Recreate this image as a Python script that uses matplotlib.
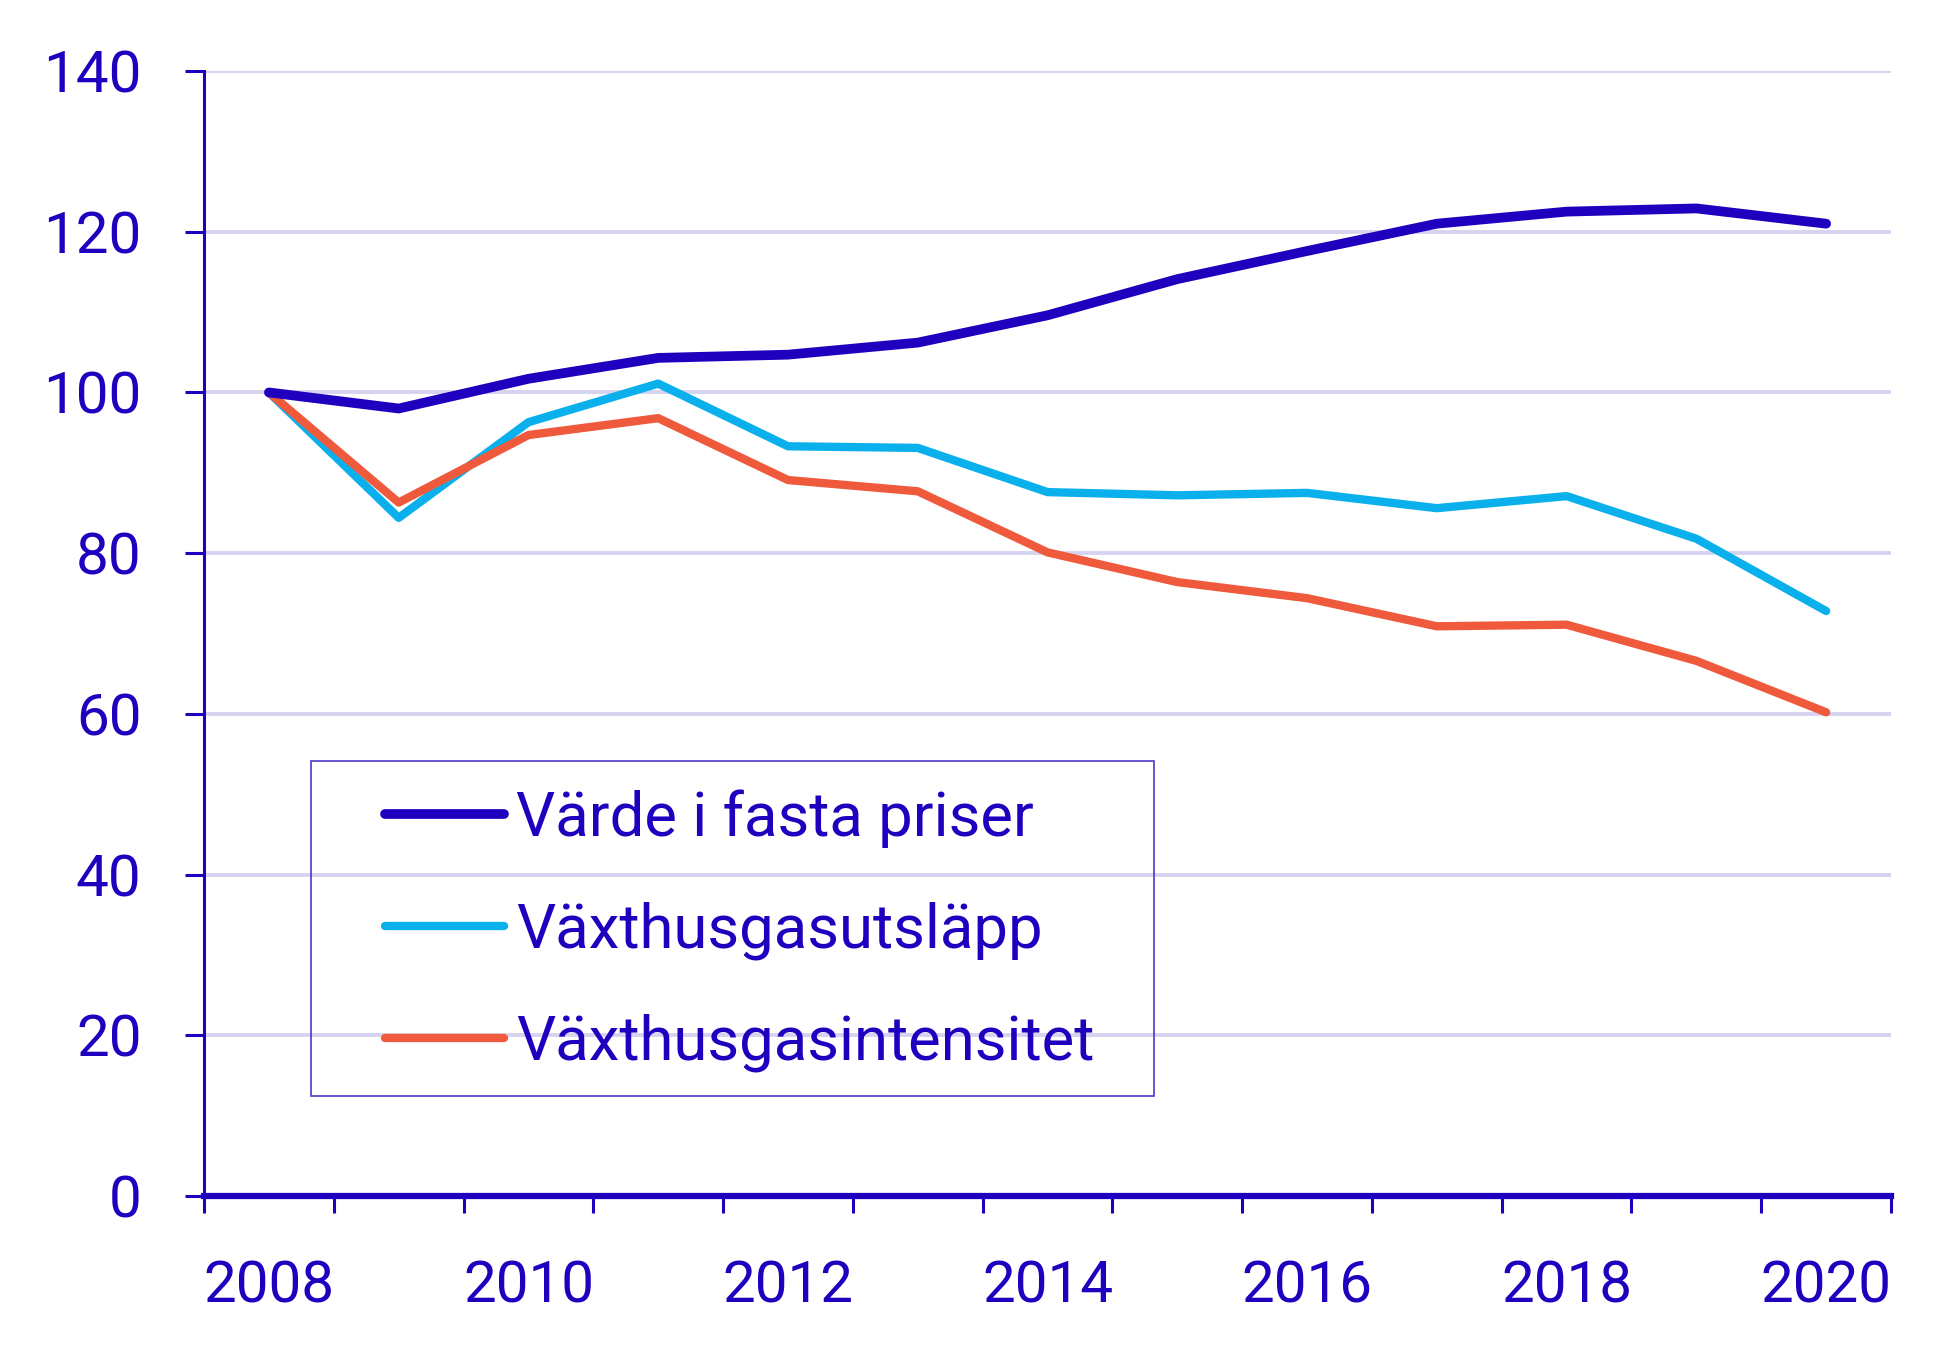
import matplotlib
matplotlib.use("Agg")
import matplotlib.pyplot as plt
from matplotlib.patches import Rectangle
import numpy as np

plt.rcParams['font.family'] = ['Roboto', 'DejaVu Sans']

# Index, 2008 = 100
years = [2008, 2009, 2010, 2011, 2012, 2013, 2014, 2015, 2016, 2017, 2018, 2019, 2020]
varde = [100.0, 98.0, 101.7, 104.3, 104.7, 106.2, 109.6, 114.1, 117.6, 121.0, 122.5, 122.9, 121.0]
utslapp = [100.0, 84.4, 96.3, 101.1, 93.3, 93.1, 87.6, 87.2, 87.5, 85.6, 87.1, 81.8, 72.8]
intensitet = [100.0, 86.3, 94.7, 96.8, 89.1, 87.7, 80.1, 76.4, 74.4, 70.9, 71.1, 66.6, 60.2]

labels = ['Värde i fasta priser', 'Växthusgasutsläpp', 'Växthusgasintensitet']
yticks = [0, 20, 40, 60, 80, 100, 120, 140]

dark = '#1E00BE'
cyan = '#0AB0EB'
orange = '#F05A3C'
grid = '#D5D3EF'

fig = plt.figure(figsize=(19.6, 13.55), dpi=100)
ax = fig.add_axes([0.1041, 0.1173, 0.8607, 0.8303])

x = np.arange(len(years))
ax.plot(x, varde, color=dark, lw=7, solid_capstyle='round', solid_joinstyle='round', label=labels[0], zorder=5)
ax.plot(x, utslapp, color=cyan, lw=6, solid_capstyle='round', solid_joinstyle='round', label=labels[1], zorder=4)
ax.plot(x, intensitet, color=orange, lw=6, solid_capstyle='round', solid_joinstyle='round', label=labels[2], zorder=4)

ax.set_xlim(-0.5, len(years) - 0.5)
ax.set_ylim(0, 140)

# gridlines
ax.set_yticks(yticks)
ax.yaxis.grid(True, color=grid, lw=2.8)
ax.set_axisbelow(True)
ax.tick_params(axis='y', length=14, width=2.2, color=dark, labelcolor=dark,
               labelsize=42, pad=31, direction='out')

# category axis: ticks at boundaries, labels at centres
ax.set_xticks(np.arange(-0.5, len(years), 1.0))
ax.set_xticklabels([])
ax.set_xticks(x[::2], minor=True)
ax.set_xticklabels([str(y) for y in years[::2]], minor=True)
ax.tick_params(axis='x', which='major', length=12, width=2.2, color=dark, direction='out')
ax.tick_params(axis='x', which='minor', length=0, labelcolor=dark, labelsize=42, pad=46)

for s in ['top', 'right']:
    ax.spines[s].set_visible(False)
ax.spines['left'].set_color(dark)
ax.spines['left'].set_linewidth(2.2)
ax.spines['bottom'].set_color(dark)
ax.spines['bottom'].set_linewidth(4.5)

# legend box
ax.add_patch(Rectangle((0.0634, 0.0889), 0.4997, 0.2978, transform=ax.transAxes,
                       fill=False, edgecolor='#4A38C8', lw=1.2, zorder=6))
leg = ax.legend(loc='upper left', bbox_to_anchor=(0.1073, 0.3614), frameon=False,
                fontsize=44.4, labelcolor=dark, handlelength=1.93, handletextpad=0.2,
                labelspacing=0.87, borderpad=0, borderaxespad=0)
for h in leg.get_lines():
    h.set_solid_capstyle('round')

fig.savefig('out.png', dpi=100)
